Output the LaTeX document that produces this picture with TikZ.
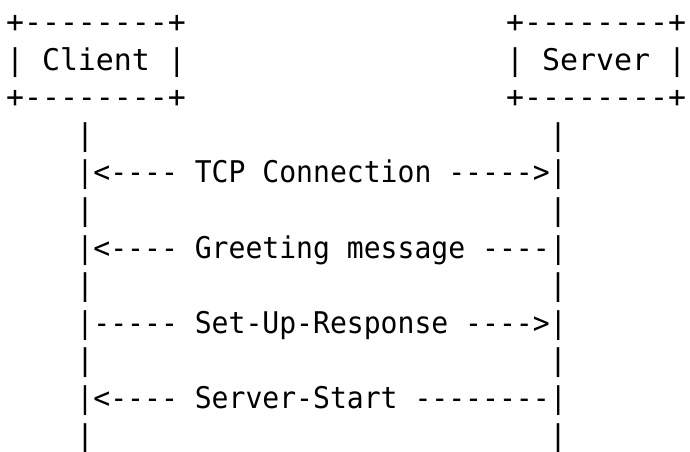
\documentclass[tikz,border=0pt]{standalone}
\usepackage{fontspec}
\usepackage{graphicx}
\setmonofont{DejaVu Sans Mono}
\tikzset{
  ascii/.style={font=\ttfamily\fontsize{29.9}{36}\selectfont, inner sep=0pt, outer sep=0pt, text=black},
  asciiline/.style={ascii, anchor=base west},
  lifeline/.style={ascii, anchor=base}
}
\newcommand{\msgsquash}[1]{\scalebox{0.939}[1]{#1}}
\begin{document}
\begin{tikzpicture}[x=1pt, y=-1pt]
\useasboundingbox[fill=white] (0,0) rectangle (690,451);
% boxes
\node[asciiline] (ctop) at (6,32.5) {+--------+};
\node[asciiline] (cmid) at (6,70.1) {| Client |};
\node[asciiline] (cbot) at (6,107.7) {+--------+};
\node[asciiline] (stop) at (506,32.5) {+--------+};
\node[asciiline] (smid) at (506,70.1) {| Server |};
\node[asciiline] (sbot) at (506,107.7) {+--------+};
% lifeline rows
\foreach \r/\yy in {4/145.3, 6/220.5, 8/295.7, 10/370.9, 12/446.1}{
  \node[lifeline] (cl\r) at (85,\yy) {|};
  \node[lifeline] (sl\r) at (558,\yy) {|};
}
% message rows
\node[asciiline] (m1) at (76.5,182.9) {\msgsquash{|<---- TCP Connection ----->|}};
\node[asciiline] (m2) at (76.5,258.1) {\msgsquash{|<---- Greeting message ----|}};
\node[asciiline] (m3) at (76.5,333.3) {\msgsquash{|----- Set-Up-Response ---->|}};
\node[asciiline] (m4) at (76.5,408.5) {\msgsquash{|<---- Server-Start --------|}};
\end{tikzpicture}
\end{document}
